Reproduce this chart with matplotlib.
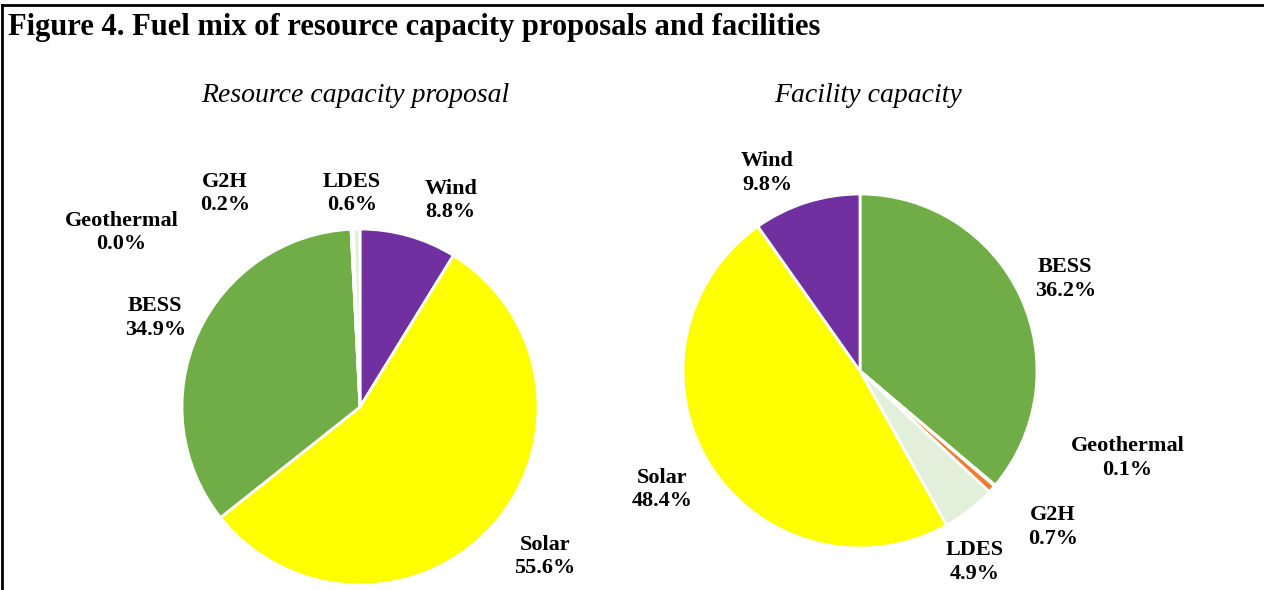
import matplotlib
matplotlib.use('Agg')
import matplotlib.pyplot as plt
from matplotlib.lines import Line2D

# Resource capacity proposal (clockwise from 12 o'clock)
left_labels = ['Wind', 'Solar', 'BESS', 'Geothermal', 'G2H', 'LDES']
left_values = [8.8, 55.6, 34.9, 0.0, 0.2, 0.6]

# Facility capacity (clockwise from 12 o'clock)
right_labels = ['BESS', 'Geothermal', 'G2H', 'LDES', 'Solar', 'Wind']
right_values = [36.2, 0.1, 0.7, 4.9, 48.4, 9.8]

colors = {'Wind': '#7030A0', 'Solar': '#FFFF00', 'BESS': '#70AD47',
          'Geothermal': '#A5A5A5', 'G2H': '#ED7D31', 'LDES': '#E2EFDA'}

# label spots, in units of pie radius from the centre
left_spots = {'Wind': (0.51, 1.16), 'Solar': (1.04, -0.84), 'BESS': (-1.15, 0.50),
              'Geothermal': (-1.34, 0.98), 'G2H': (-0.76, 1.20), 'LDES': (-0.045, 1.20)}
right_spots = {'BESS': (1.16, 0.52), 'Geothermal': (1.51, -0.49), 'G2H': (1.09, -0.88),
               'LDES': (0.65, -1.08), 'Solar': (-1.12, -0.67), 'Wind': (-0.525, 1.12)}

W, H = 1264, 590
fig = plt.figure(figsize=(W / 100, H / 100), dpi=100)
serif = 'Liberation Serif'


def draw_pie(cx, cy, r, labels, values, spots, title, tx):
    ax = fig.add_axes([(cx - r) / W, (H - cy - r) / H, 2 * r / W, 2 * r / H])
    ax.pie(values, colors=[colors[l] for l in labels], startangle=90, counterclock=False,
           radius=1, wedgeprops=dict(edgecolor='white', linewidth=2))
    ax.set_xlim(-1, 1)
    ax.set_ylim(-1, 1)
    ax.set_aspect('equal')
    ax.axis('off')
    for lab, val in zip(labels, values):
        x, y = spots[lab]
        ax.text(x, y, '%s\n%.1f%%' % (lab, val), ha='center', va='center', fontsize=16,
                fontweight='bold', family=serif, linespacing=1.25, clip_on=False)
    fig.text(tx / W, 1 - 95 / H, title, ha='center', va='center', fontsize=20,
             style='italic', family=serif)


draw_pie(360, 407, 178, left_labels, left_values, left_spots, 'Resource capacity proposal', 355)
draw_pie(860, 371, 177, right_labels, right_values, right_spots, 'Facility capacity', 868)

fig.text(8 / W, 1 - 28 / H, 'Figure 4. Fuel mix of resource capacity proposals and facilities',
         ha='left', va='center', fontsize=22, fontweight='bold', family=serif)

# box edges (top and left)
fig.add_artist(Line2D([2 / W, 1], [1 - 4.5 / H, 1 - 4.5 / H], color='black', lw=2,
                      transform=fig.transFigure))
fig.add_artist(Line2D([2 / W, 2 / W], [0, 1 - 4.5 / H], color='black', lw=2,
                      transform=fig.transFigure))

fig.savefig('out.png', dpi=100)
